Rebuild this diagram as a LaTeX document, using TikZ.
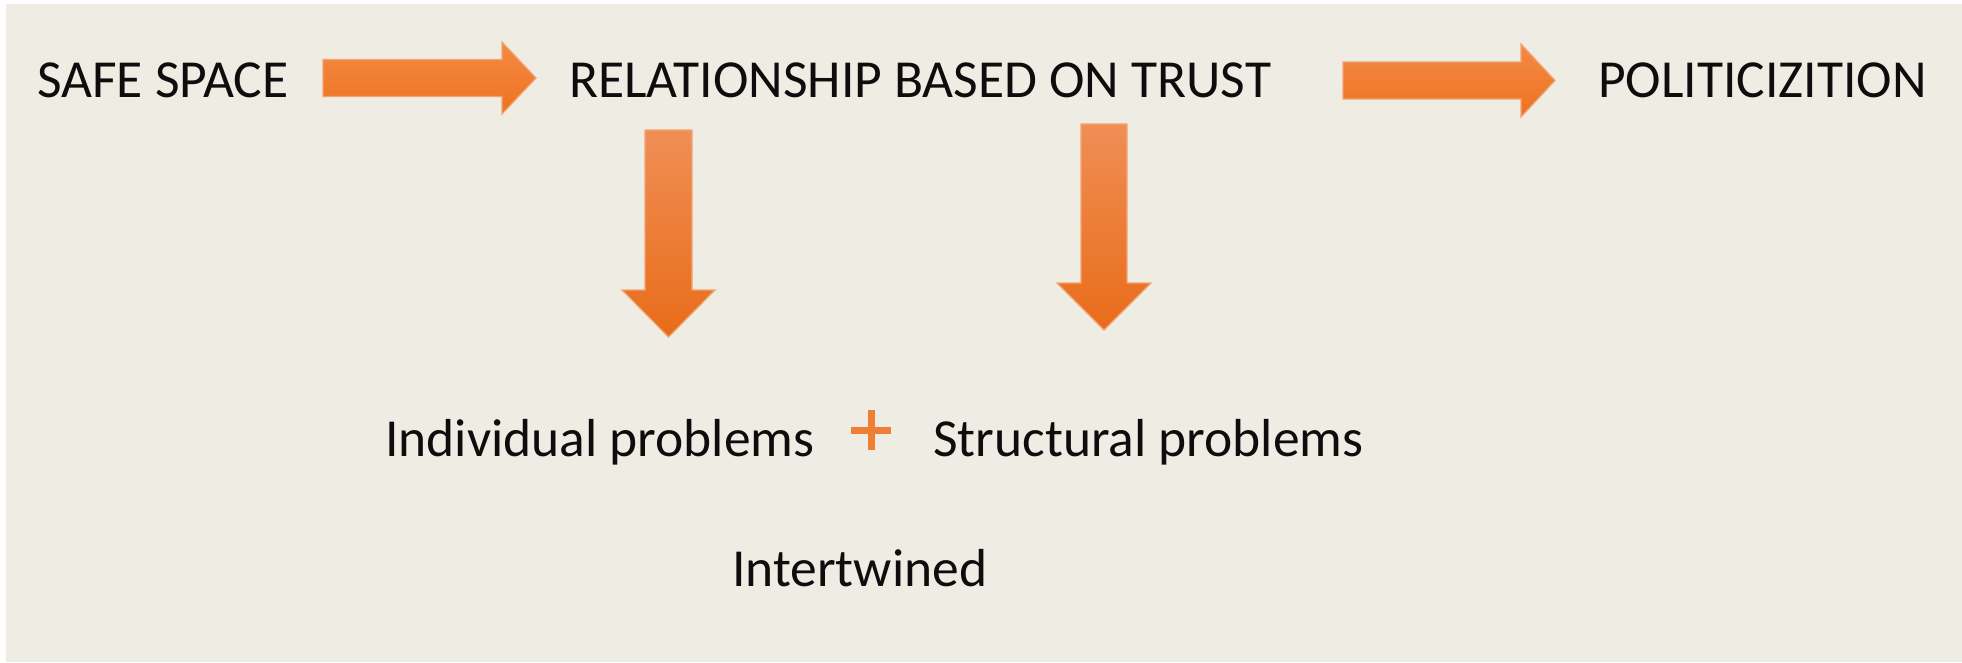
\documentclass[tikz,border=0pt]{standalone}
\usepackage{fontspec}
\setmainfont{Carlito}
\definecolor{bgc}{HTML}{EFECE4}
\definecolor{arrTop}{HTML}{F08E55}
\definecolor{arrMid}{HTML}{F47D2D}
\definecolor{arrBot}{HTML}{E86C19}
\definecolor{harrTop}{HTML}{F38A45}
\definecolor{harrBot}{HTML}{EE7220}
\definecolor{arrEdge}{HTML}{F2A574}
\definecolor{plusc}{HTML}{EF7F35}
\definecolor{txt}{HTML}{0D0D0D}
\tikzset{
  lbl/.style={inner sep=0pt, anchor=base west, text=txt, font=\fontsize{53.5pt}{60pt}\selectfont},
  harr/.style={top color=harrTop, bottom color=harrBot, draw=arrEdge, line width=1.2pt, line join=miter},
  varr/.style={top color=arrTop, middle color=arrMid, bottom color=arrBot, draw=arrEdge, line width=1.2pt, line join=miter},
  plusstroke/.style={draw=plusc, line width=7pt}
}
\begin{document}
\begin{tikzpicture}[x=1pt,y=-1pt]
\useasboundingbox (0,0) rectangle (1962,662);
\fill[white] (0,0) rectangle (1962,662);
\fill[bgc] (6,4) rectangle (1962,662);

% texts
\node[lbl] (safe) at (37,97) {SAFE SPACE};
\node[lbl] (rel) at (569,97) {RELATIONSHIP BASED ON TRUST};
\node[lbl] (pol) at (1598,97) {POLITICIZITION};
\node[lbl] (ind) at (385,456) {Individual problems};
\node[lbl] (str) at (933,456) {Structural problems};
\node[lbl] (int) at (732,586) {Intertwined};

% plus sign
\coordinate (plusc) at (871,430);
\draw[plusstroke] ([xshift=-20pt]plusc) -- ([xshift=20pt]plusc);
\draw[plusstroke] ([yshift=20pt]plusc) -- ([yshift=-20pt]plusc);

% horizontal block arrows
\coordinate (a1s) at (323,78);
\coordinate (a1t) at (536,78);
\shadedraw[harr] (a1s) ++(0,-18.5) -- (502,59.5) -- (502,42) -- (a1t) -- (502,114) -- (502,96.5) -- (323,96.5) -- cycle;

\coordinate (a2s) at (1343,80.5);
\coordinate (a2t) at (1555,80.5);
\shadedraw[harr] (a2s) ++(0,-18.5) -- (1521,62) -- (1521,44) -- (a2t) -- (1521,117) -- (1521,99) -- (1343,99) -- cycle;

% vertical block arrows
\coordinate (d1s) at (668.5,130);
\coordinate (d1t) at (668.5,337);
\shadedraw[varr] (645,130) -- (692,130) -- (692,290) -- (715,290) -- (d1t) -- (622,290) -- (645,290) -- cycle;

\coordinate (d2s) at (1104,124);
\coordinate (d2t) at (1104,330);
\shadedraw[varr] (1081,124) -- (1127,124) -- (1127,283) -- (1151,283) -- (d2t) -- (1057,283) -- (1081,283) -- cycle;
\end{tikzpicture}
\end{document}
